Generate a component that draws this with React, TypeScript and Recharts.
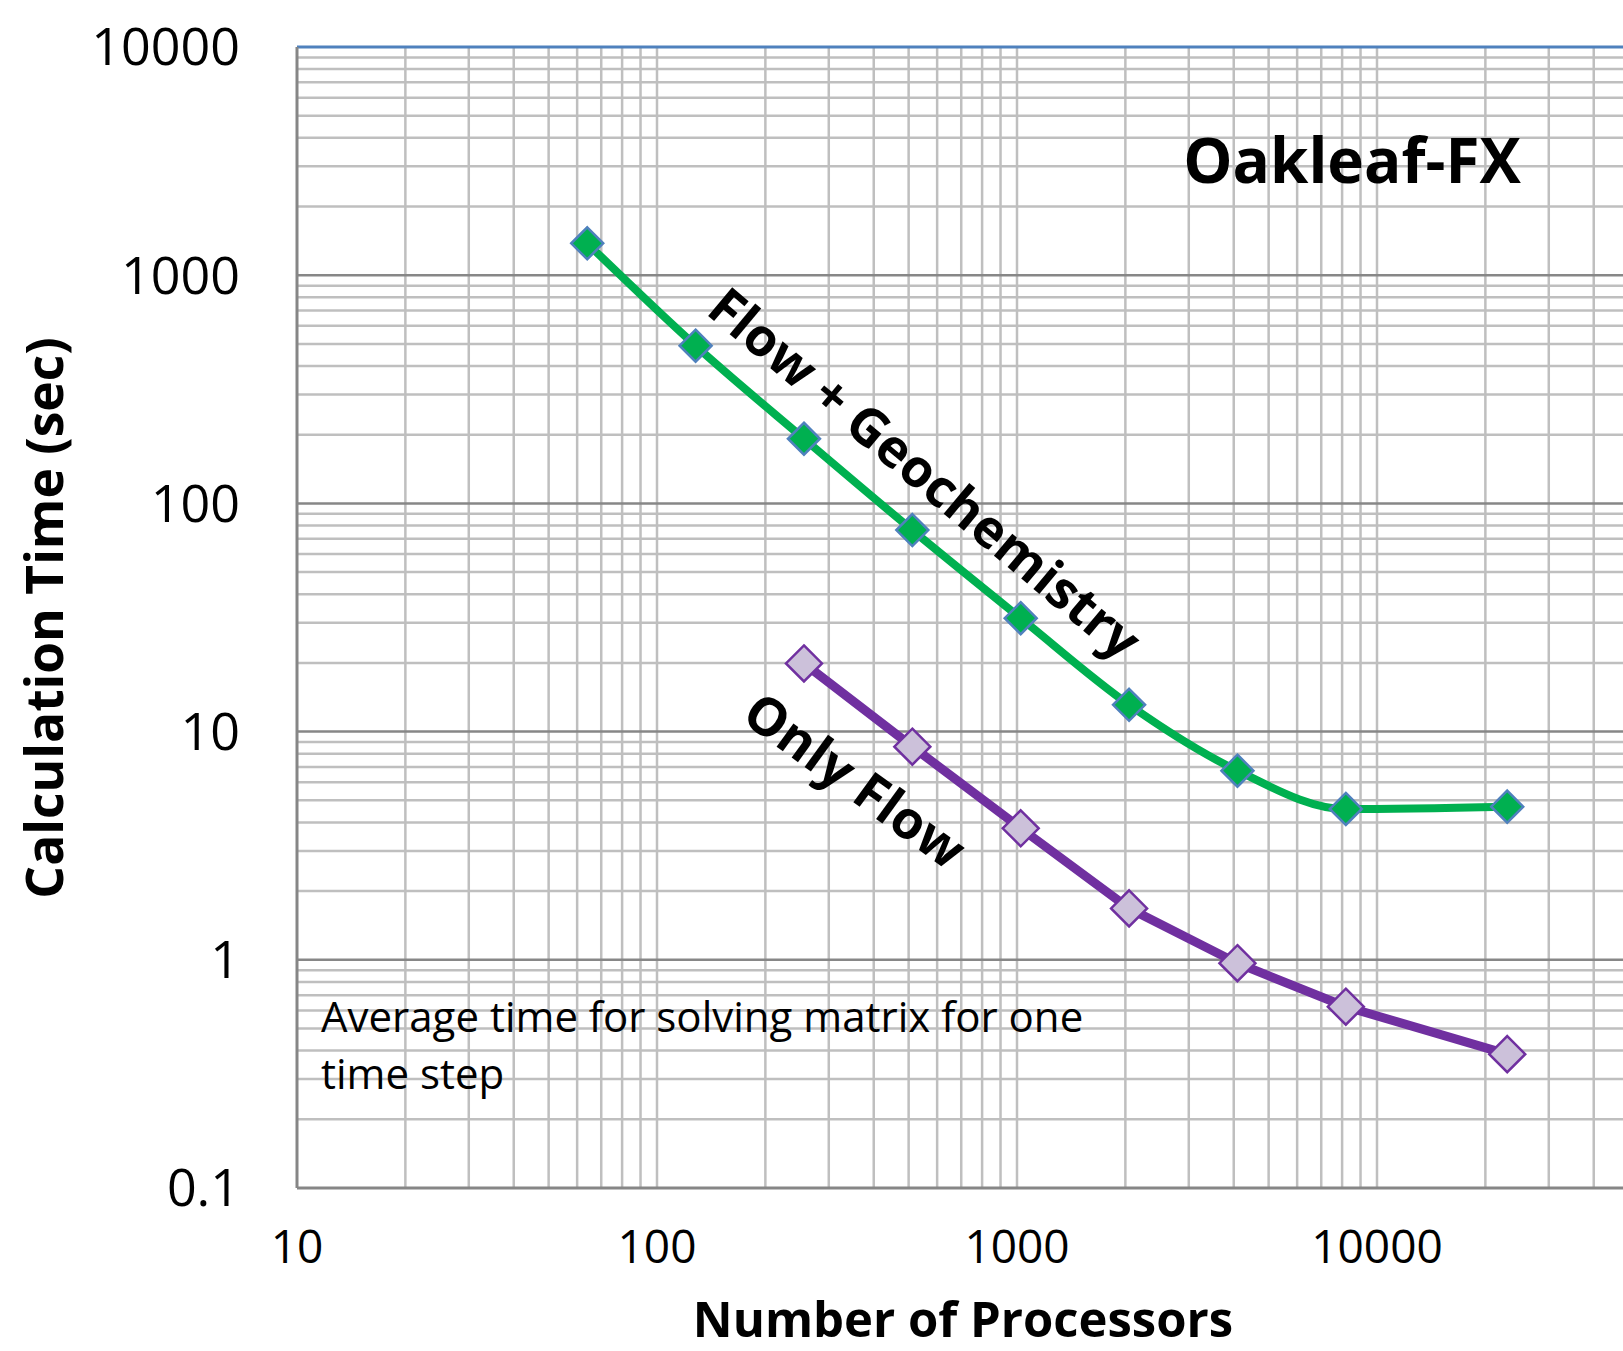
import React from "react";
import { LineChart, Line, XAxis, YAxis, ReferenceLine } from "recharts";

// ---- data ----
const flowGeoProcs = [64, 128, 256, 512, 1024, 2048, 4096, 8192, 23000];
const flowGeoTimes = [1380, 491, 192, 76.4, 31.4, 13.1, 6.74, 4.58, 4.69];
const onlyFlowProcs = [256, 512, 1024, 2048, 4096, 8192, 23000];
const onlyFlowTimes = [19.9, 8.59, 3.77, 1.68, 0.966, 0.623, 0.386];

const xTicks = [10, 100, 1000, 10000];
const yTicks = [0.1, 1, 10, 100, 1000, 10000];
const xMinorGrid = [
  20, 30, 40, 50, 60, 70, 80, 90, 100,
  200, 300, 400, 500, 600, 700, 800, 900, 1000,
  2000, 3000, 4000, 5000, 6000, 7000, 8000, 9000, 10000,
  20000, 30000, 40000, 50000, 60000, 70000, 80000, 90000,
];
const yMinorGrid = [
  0.2, 0.3, 0.4, 0.5, 0.6, 0.7, 0.8, 0.9,
  2, 3, 4, 5, 6, 7, 8, 9,
  20, 30, 40, 50, 60, 70, 80, 90,
  200, 300, 400, 500, 600, 700, 800, 900,
  2000, 3000, 4000, 5000, 6000, 7000, 8000, 9000,
];
const yMajorGrid = [1, 10, 100, 1000];

const flowGeoData = flowGeoProcs.map((p, i) => ({ procs: p, time: flowGeoTimes[i] }));
const onlyFlowData = onlyFlowProcs.map((p, i) => ({ procs: p, time: onlyFlowTimes[i] }));

const FONT = "'Open Sans', sans-serif";

const makeDiamond = (fill: string, stroke: string, r: number) => (props: any) => {
  const { cx, cy, index } = props;
  if (cx == null || cy == null) return <g key={index} />;
  return (
    <path
      key={index}
      d={`M${cx},${cy - r} L${cx + r},${cy} L${cx},${cy + r} L${cx - r},${cy} Z`}
      fill={fill}
      stroke={stroke}
      strokeWidth={2.5}
    />
  );
};

export default function App() {
  return (
    <div
      style={{
        position: "fixed",
        left: 0,
        top: 0,
        width: 1623,
        height: 1351,
        overflow: "hidden",
        background: "#fff",
        fontFamily: FONT,
      }}
    >
      <LineChart
        width={1760}
        height={1351}
        margin={{ top: 47, right: 23, bottom: 0, left: 0 }}
        style={{ fontFamily: FONT }}
      >
        <XAxis
          type="number"
          dataKey="procs"
          scale="log"
          domain={[10, 100000]}
          ticks={xTicks}
          allowDataOverflow
          height={163}
          tickLine={false}
          tickSize={0}
          tickMargin={42}
          axisLine={{ stroke: "#868686", strokeWidth: 3 }}
          tick={{ fill: "#000", fontSize: 46, fontFamily: FONT }}
          interval={0}
        />
        <YAxis
          type="number"
          dataKey="time"
          scale="log"
          domain={[0.1, 10000]}
          ticks={yTicks}
          allowDataOverflow
          width={297}
          tickLine={false}
          tickSize={0}
          tickMargin={57}
          axisLine={{ stroke: "#868686", strokeWidth: 3 }}
          tick={{ fill: "#000", fontSize: 52, fontFamily: FONT }}
          tickFormatter={(v: number) => String(v)}
          interval={0}
        />
        {xMinorGrid.map((v) => (
          <ReferenceLine key={"vx" + v} x={v} stroke="#BFBFBF" strokeWidth={2.5} />
        ))}
        {yMinorGrid.map((v) => (
          <ReferenceLine key={"hy" + v} y={v} stroke="#BFBFBF" strokeWidth={2.5} />
        ))}
        {yMajorGrid.map((v) => (
          <ReferenceLine key={"HY" + v} y={v} stroke="#878787" strokeWidth={2.5} />
        ))}
        <ReferenceLine y={10000} stroke="#4F81BD" strokeWidth={3} />
        <Line
          data={flowGeoData}
          dataKey="time"
          type="monotone"
          stroke="#00B050"
          strokeWidth={8}
          isAnimationActive={false}
          dot={makeDiamond("#00B050", "#4F81BD", 16)}
          activeDot={false}
        />
        <Line
          data={onlyFlowData}
          dataKey="time"
          type="linear"
          stroke="#7030A0"
          strokeWidth={9}
          isAnimationActive={false}
          dot={makeDiamond("#CCC1DA", "#7030A0", 18)}
          activeDot={false}
        />
      </LineChart>
      <svg
        width={1623}
        height={1351}
        style={{ position: "absolute", left: 0, top: 0, pointerEvents: "none" }}
      >
        <text x={1352} y={183} textAnchor="middle" fontFamily={FONT} fontWeight={700} fontSize={62} fill="#000">
          Oakleaf-FX
        </text>
        <text
          x={926}
          y={472}
          textAnchor="middle"
          dominantBaseline="central"
          fontFamily={FONT}
          fontWeight={700}
          fontSize={52.5}
          fill="#000"
          transform="rotate(40 926 472)"
        >
          Flow + Geochemistry
        </text>
        <text
          x={856}
          y={779}
          textAnchor="middle"
          dominantBaseline="central"
          fontFamily={FONT}
          fontWeight={700}
          fontSize={52.5}
          fill="#000"
          transform="rotate(36 856 779)"
        >
          Only Flow
        </text>
        <text x={321} y={1032} fontFamily={FONT} fontSize={42} fill="#000">
          Average time for solving matrix for one
        </text>
        <text x={321} y={1089} fontFamily={FONT} fontSize={42} fill="#000">
          time step
        </text>
        <text x={963} y={1337} textAnchor="middle" fontFamily={FONT} fontWeight={700} fontSize={49} fill="#000">
          Number of Processors
        </text>
        <text
          x={43}
          y={618}
          textAnchor="middle"
          dominantBaseline="central"
          fontFamily={FONT}
          fontWeight={700}
          fontSize={51.5}
          fill="#000"
          transform="rotate(-90 43 618)"
        >
          Calculation Time (sec)
        </text>
      </svg>
    </div>
  );
}
